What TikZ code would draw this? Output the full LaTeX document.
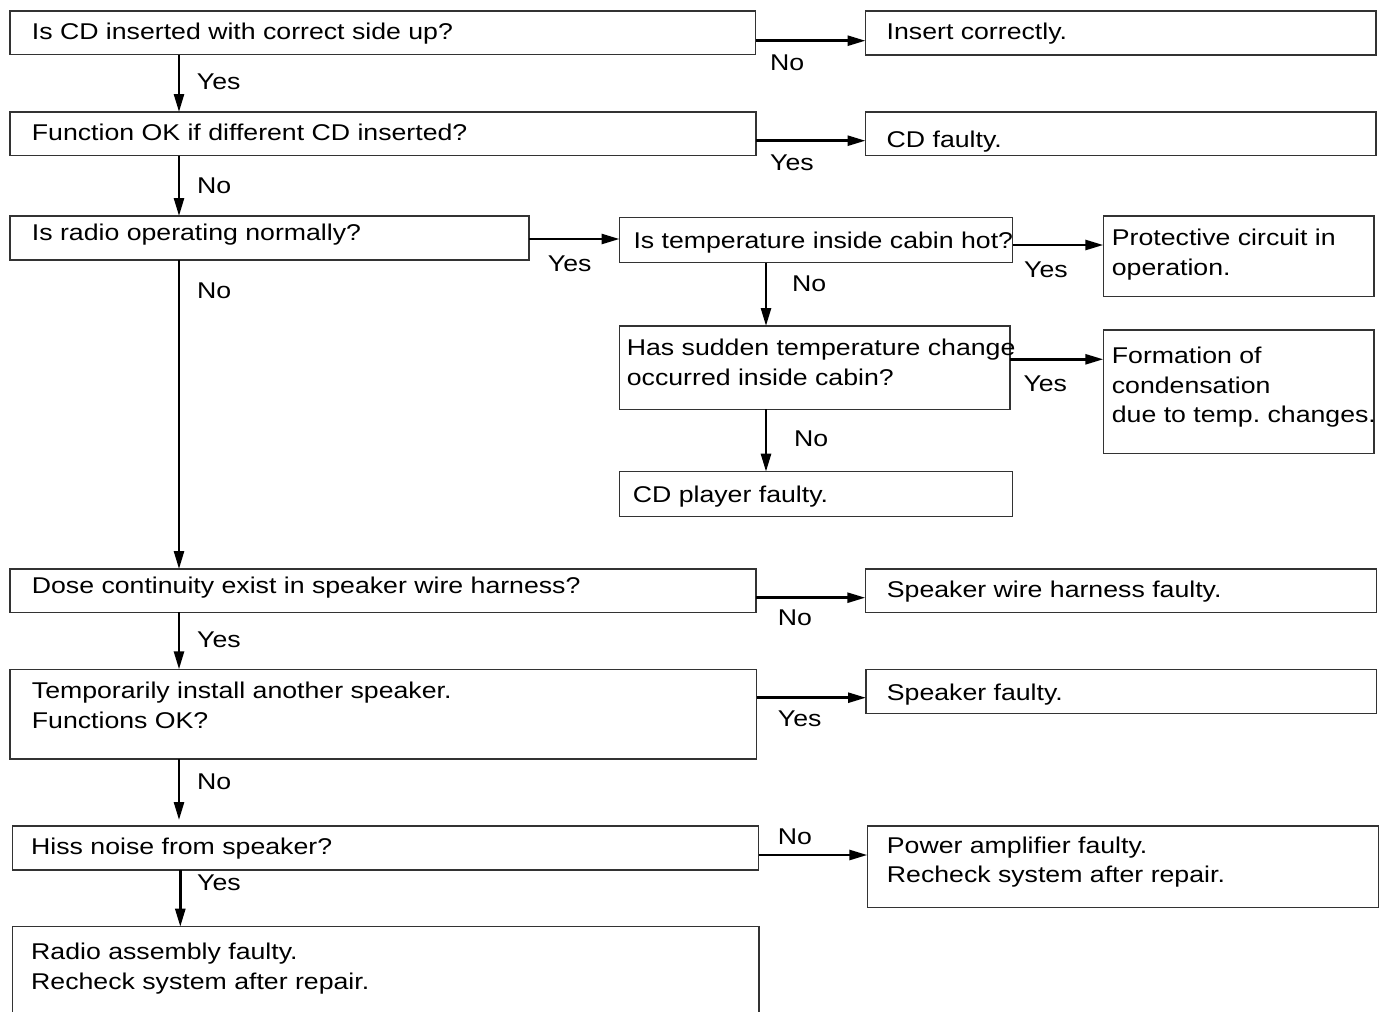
\documentclass[tikz,border=0pt]{standalone}
\usepackage{fontspec}
\setmainfont{Liberation Sans}[FakeStretch=1.17]
\usetikzlibrary{arrows.meta}
\frenchspacing
\begin{document}
\begin{tikzpicture}[x=1pt,y=-1pt,
  font={\fontsize{22.8}{29.4}\selectfont\frenchspacing},
  box/.style={draw=black!80, line width=1.3pt, inner sep=0pt, outer sep=0pt, anchor=north west},
  txt/.style={inner sep=0pt, anchor=base west, align=left},
  lbl/.style={inner sep=0pt, anchor=base west},
  arr/.style={line width=2.6pt, -{Triangle[length=18pt,width=10pt]}}]
\useasboundingbox[fill=white] (0,0) rectangle (1382,1012);

% boxes
\node[box, minimum width=745.5pt, minimum height=43.7pt] (b1) at (10,11) {};
\node[box, minimum width=510.5pt, minimum height=44pt] (r1) at (865.5,11) {};
\node[box, minimum width=746pt, minimum height=43.5pt] (b2) at (10,112) {};
\node[box, minimum width=510.5pt, minimum height=43.5pt] (r2) at (865.5,112) {};
\node[box, minimum width=519pt, minimum height=44pt] (b3) at (10,216) {};
\node[box, minimum width=393pt, minimum height=45pt] (b4) at (619.5,217.7) {};
\node[box, minimum width=270.7pt, minimum height=80.7pt] (r4) at (1103.3,216) {};
\node[box, minimum width=390.5pt, minimum height=83.3pt] (b6) at (619.5,326) {};
\node[box, minimum width=270.7pt, minimum height=123.3pt] (r6) at (1103.3,330) {};
\node[box, minimum width=393.2pt, minimum height=45pt] (b8) at (619.5,471.7) {};
\node[box, minimum width=746pt, minimum height=43.3pt] (b9) at (10,569) {};
\node[box, minimum width=511pt, minimum height=43.3pt] (r9) at (865.3,569) {};
\node[box, minimum width=746.7pt, minimum height=89.7pt] (b11) at (10,669.3) {};
\node[box, minimum width=510.3pt, minimum height=44pt] (r11) at (866,669.3) {};
\node[box, minimum width=746.4pt, minimum height=44pt] (b13) at (12.3,826) {};
\node[box, minimum width=511pt, minimum height=81.7pt] (r13) at (867.3,826) {};
\node[box, minimum width=746.3pt, minimum height=95pt] (b15) at (12.7,926.7) {};

% texts (multi-line nodes are anchored at the baseline of their last line)
\node[txt] (t1) at (31.7,39.3) {Is CD inserted with correct side up?};
\node[txt] (u1) at (886.5,39.3) {Insert correctly.};
\node[txt] (t2) at (31.7,140) {Function OK if different CD inserted?};
\node[txt] (u2) at (886.5,147.5) {CD faulty.};
\node[txt] (t3) at (31.7,240) {Is radio operating normally?};
\node[txt] (t4) at (633.3,248.3) {Is temperature inside cabin hot?};
\node[txt] (u4) at (1111.7,275) {Protective circuit in\\operation.};
\node[txt] (t6) at (626.7,385) {Has sudden temperature change\\occurred inside cabin?};
\node[txt] (u6) at (1111.7,422.7) {Formation of\\condensation\\due to temp. changes.};
\node[txt] (t8) at (632.7,502.7) {CD player faulty.};
\node[txt] (t9) at (31.7,593.3) {Dose continuity exist in speaker wire harness?};
\node[txt] (u9) at (886.7,597.3) {Speaker wire harness faulty.};
\node[txt] (t11) at (31.7,728.3) {Temporarily install another speaker.\\Functions OK?};
\node[txt] (u11) at (886.7,700) {Speaker faulty.};
\node[txt] (t13) at (31,854.3) {Hiss noise from speaker?};
\node[txt] (u13) at (886.7,882.7) {Power amplifier faulty.\\Recheck system after repair.};
\node[txt] (t15) at (31,989) {Radio assembly faulty.\\Recheck system after repair.};

% connectors
\draw[arr] (b1.east |- 0,40.7) -- (r1.west |- 0,40.7);
\draw[arr] (b1.south -| 179,0) -- (b2.north -| 179,0);
\draw[arr] (b2.east |- 0,140.7) -- (r2.west |- 0,140.7);
\draw[arr] (b2.south -| 179,0) -- (b3.north -| 179,0);
\draw[arr] (b3.east |- 0,239) -- (b4.west |- 0,239);
\draw[arr] (b4.east |- 0,245) -- (r4.west |- 0,245);
\draw[arr] (b4.south -| 766,0) -- (b6.north -| 766,0);
\draw[arr] (b6.east |- 0,359.3) -- (r6.west |- 0,359.3);
\draw[arr] (b6.south -| 766,0) -- (b8.north -| 766,0);
\draw[arr] (b3.south -| 179,0) -- (b9.north -| 179,0);
\draw[arr] (b9.east |- 0,597.7) -- (r9.west |- 0,597.7);
\draw[arr] (b9.south -| 179,0) -- (b11.north -| 179,0);
\draw[arr] (b11.east |- 0,697.7) -- (r11.west |- 0,697.7);
\draw[arr, shorten >=6pt] (b11.south -| 179,0) -- (b13.north -| 179,0);
\draw[arr] (b13.east |- 0,855) -- (r13.west |- 0,855);
\draw[arr] (b13.south -| 180.3,0) -- (b15.north -| 180.3,0);

% labels
\node[lbl] (l1) at (770,70.7) {No};
\node[lbl] (l2) at (196.7,89.3) {Yes};
\node[lbl] (l3) at (770,170.7) {Yes};
\node[lbl] (l4) at (197,193) {No};
\node[lbl] (l5) at (547.7,271.7) {Yes};
\node[lbl] (l6) at (1024,277.3) {Yes};
\node[lbl] (l7) at (792,291.7) {No};
\node[lbl] (l8) at (1023.3,391.7) {Yes};
\node[lbl] (l9) at (794,446.7) {No};
\node[lbl] (l10) at (197,298) {No};
\node[lbl] (l11) at (777.7,625) {No};
\node[lbl] (l12) at (197,647.3) {Yes};
\node[lbl] (l13) at (777.7,726.7) {Yes};
\node[lbl] (l14) at (197,789.3) {No};
\node[lbl] (l15) at (777.7,844.3) {No};
\node[lbl] (l16) at (197,890) {Yes};
\end{tikzpicture}
\end{document}
